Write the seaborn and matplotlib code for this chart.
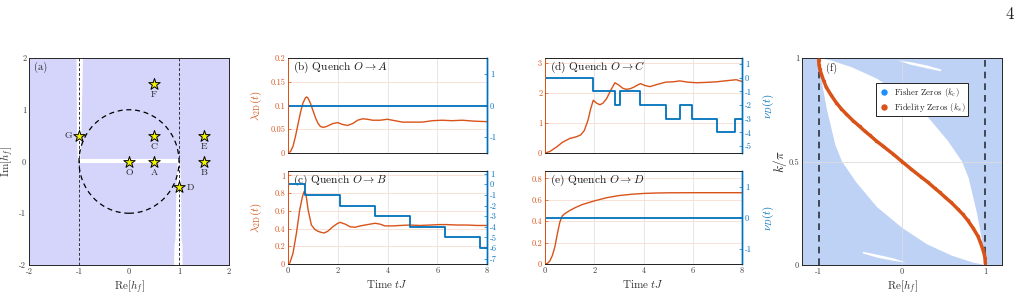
import matplotlib
matplotlib.use('Agg')
import matplotlib.pyplot as plt
from matplotlib.patches import Circle
from matplotlib.lines import Line2D
import seaborn as sns

# colores tipo MATLAB
ORANGE = '#D95319'
BLUE = '#0072BD'
DARK = '#262626'
LAVANDA = '#d5d5fb'
FISHER = '#bed2f6'

# ---- (a) plano complejo h_f ----
star_names = ['O', 'A', 'B', 'C', 'D', 'E', 'F', 'G']
star_re = [0.0, 0.5, 1.5, 0.5, 1.0, 1.5, 0.5, -1.0]
star_im = [0.0, 0.0, 0.0, 0.5, -0.5, 0.5, 1.5, 0.5]

# franjas blancas
banda_sup_x = [-1.05, -0.92, -0.95, -0.975, -1.025, -1.04]
banda_sup_y = [2.0, 2.0, 0.6, 0.0, 0.0, 0.6]
banda_inf_x = [0.975, 1.025, 1.04, 1.05, 1.07, 1.07, 0.9, 0.91, 0.93, 0.95]
banda_inf_y = [0.0, 0.0, -0.5, -1.5, -1.6, -2.0, -2.0, -1.6, -1.5, -0.5]
linea_h_x = [-1.0, 1.0, 1.0, -1.0]
linea_h_y = [-0.035, -0.035, 0.04, 0.04]

# ---- (b)-(e) dinamica ----
t_b = [0, 0.1, 0.2, 0.3, 0.4, 0.5, 0.6, 0.7, 0.75, 0.8, 0.9, 1.0, 1.1, 1.2, 1.3, 1.4, 1.5,
       1.6, 1.8, 2.0, 2.2, 2.4, 2.6, 2.8, 3.0, 3.2, 3.4, 3.7, 4.0, 4.3, 4.6, 5.0, 5.4,
       5.8, 6.2, 6.6, 7.0, 7.5, 8.0]
lam_b = [0, 0.003, 0.014, 0.035, 0.06, 0.085, 0.105, 0.116, 0.118, 0.116, 0.105, 0.09,
         0.075, 0.063, 0.056, 0.054, 0.055, 0.057, 0.062, 0.064, 0.06, 0.058, 0.062,
         0.069, 0.072, 0.071, 0.069, 0.069, 0.071, 0.068, 0.065, 0.065, 0.065, 0.068,
         0.069, 0.068, 0.069, 0.067, 0.066]

t_c = [0, 0.07, 0.2, 0.34, 0.47, 0.58, 0.65, 0.72, 0.81, 0.94, 1.08, 1.2, 1.3, 1.45, 1.6,
       1.8, 2.0, 2.1, 2.3, 2.5, 2.7, 2.9, 3.1, 3.3, 3.5, 3.7, 3.9, 4.2, 4.5, 4.9, 5.3,
       5.7, 6.1, 6.4, 6.8, 7.2, 7.6, 8.0]
lam_c = [0, 0.01, 0.12, 0.35, 0.61, 0.76, 0.82, 0.79, 0.61, 0.44, 0.39, 0.37, 0.36, 0.35,
         0.37, 0.42, 0.46, 0.47, 0.45, 0.42, 0.415, 0.43, 0.44, 0.45, 0.46, 0.45, 0.43,
         0.43, 0.435, 0.44, 0.435, 0.44, 0.445, 0.445, 0.44, 0.44, 0.435, 0.435]
t_nu_c = [0, 0.68, 2.09, 3.49, 4.9, 6.3, 7.71, 8.0]
nu_c = [0, -1, -2, -3, -4, -5, -6, -6]

t_d = [0, 0.2, 0.47, 0.7, 1.0, 1.28, 1.45, 1.6, 1.75, 1.85, 1.96, 2.1, 2.23, 2.35, 2.5,
       2.65, 2.84, 3.0, 3.15, 3.3, 3.45, 3.6, 3.75, 3.88, 4.05, 4.26, 4.5, 4.9, 5.2,
       5.47, 5.8, 6.15, 6.5, 6.96, 7.4, 7.77, 8.0]
lam_d = [0, 0.05, 0.2, 0.35, 0.48, 0.54, 0.6, 0.75, 1.1, 1.45, 1.75, 1.65, 1.6, 1.65,
         1.8, 2.05, 2.33, 2.25, 2.15, 2.11, 2.13, 2.18, 2.25, 2.3, 2.24, 2.2, 2.26, 2.35,
         2.36, 2.39, 2.35, 2.33, 2.34, 2.36, 2.4, 2.43, 2.37]
t_nu_d = [0, 1.96, 2.84, 3.06, 3.85, 4.9, 5.47, 5.95, 7.0, 7.73, 8.0]
nu_d = [0, -1, -2, -1, -2, -3, -2, -3, -4, -3, -3]

t_e = [0, 0.1, 0.2, 0.3, 0.4, 0.5, 0.6, 0.7, 0.8, 1.0, 1.25, 1.5, 2.0, 2.5, 3.0, 3.5,
       4.0, 4.5, 5.0, 6.0, 7.0, 8.0]
lam_e = [0, 0.005, 0.03, 0.08, 0.16, 0.28, 0.39, 0.45, 0.47, 0.5, 0.53, 0.555, 0.59,
         0.62, 0.64, 0.652, 0.66, 0.664, 0.666, 0.667, 0.667, 0.667]

t_nu_cte = [0, 8.0]
nu_cte = [0, 0]

# ---- (f) ceros ----
fid_h = [-1.0, -0.995, -0.985, -0.97, -0.94, -0.91, -0.85, -0.79, -0.73, -0.67, -0.59,
         -0.51, -0.45, -0.39, -0.31, -0.23, -0.11, 0.0, 0.11, 0.23, 0.31, 0.39, 0.45,
         0.51, 0.59, 0.67, 0.73, 0.79, 0.85, 0.91, 0.94, 0.97, 0.985, 0.995, 1.0]
fid_k = [0.99, 0.965, 0.945, 0.925, 0.89, 0.86, 0.82, 0.785, 0.755, 0.73, 0.698,
         0.67, 0.648, 0.628, 0.6, 0.575, 0.537, 0.5, 0.463, 0.425, 0.4, 0.372, 0.352,
         0.33, 0.302, 0.27, 0.245, 0.215, 0.18, 0.14, 0.11, 0.075, 0.055, 0.035, 0.01]

lente_inf_h = [-1.0, -0.97, -0.9, -0.8, -0.72, -0.55, -0.3, 0.0, 0.3, 0.6, 0.85, 1.0]
lente_inf_k = [1.0, 0.9, 0.75, 0.58, 0.5, 0.4, 0.28, 0.18, 0.1, 0.045, 0.012, 0.0]
lente_sup_h = [1.0, 0.97, 0.9, 0.8, 0.72, 0.55, 0.3, 0.0, -0.3, -0.6, -0.85, -1.0]
lente_sup_k = [0.0, 0.1, 0.25, 0.42, 0.5, 0.6, 0.72, 0.82, 0.9, 0.955, 0.988, 1.0]

astilla_inf_h = [-0.47, -0.3, -0.1, 0.05, -0.1, -0.3, -0.47]
astilla_inf_k = [0.064, 0.05, 0.032, 0.012, 0.02, 0.036, 0.056]
astilla_sup_h = [0.47, 0.3, 0.1, -0.05, 0.1, 0.3, 0.47]
astilla_sup_k = [0.936, 0.95, 0.968, 0.988, 0.98, 0.964, 0.944]

sns.set_theme(style='white')
plt.rcParams['font.family'] = ['cmr10', 'DejaVu Serif']
plt.rcParams['mathtext.fontset'] = 'cm'
plt.rcParams['axes.unicode_minus'] = False
plt.rcParams['axes.formatter.use_mathtext'] = True

W, H = 1021, 296
TICK = 6
LAB = 8


def caja(l, t, r, b):
    return [l / W, 1 - b / H, (r - l) / W, (b - t) / H]


def estilo(ax):
    ax.tick_params(direction='in', length=2.5, width=0.5, labelsize=TICK, pad=2,
                   colors=DARK, labelcolor='#404040')
    for s in ax.spines.values():
        s.set_color(DARK)
        s.set_linewidth(0.7)


fig = plt.figure(figsize=(W / 100, H / 100), dpi=100)

# ===== (a) =====
ax = fig.add_axes(caja(29, 58, 229, 265))
ax.set_facecolor(LAVANDA)
ax.fill(banda_sup_x, banda_sup_y, color='white', lw=0, zorder=1)
ax.fill(banda_inf_x, banda_inf_y, color='white', lw=0, zorder=1)
ax.fill(linea_h_x, linea_h_y, color='white', lw=0, zorder=1)
for xv in [-1, 1]:
    ax.axvline(xv, color='#333333', lw=0.7, ls=(0, (3, 2)), zorder=2)
ax.add_patch(Circle((0, 0), 1, fill=False, ec='black', lw=0.9, ls=(0, (4, 3)), zorder=2))
sns.scatterplot(x=star_re, y=star_im, ax=ax, marker='*', s=75, color='#f5f500',
                edgecolor='black', linewidth=0.7, zorder=4, legend=False)
for n, xr, yi in zip(star_names, star_re, star_im):
    if n == 'G':
        ax.text(xr - 0.21, yi, n, ha='center', va='center', fontsize=7)
    elif n == 'D':
        ax.text(xr + 0.22, yi, n, ha='center', va='center', fontsize=7)
    else:
        ax.text(xr, yi - 0.21, n, ha='center', va='center', fontsize=7)
ax.set_xlim(-2, 2)
ax.set_ylim(-2, 2)
ax.set_xticks([-2, -1, 0, 1, 2])
ax.set_xticklabels(['-2', '-1', '0', '1', '2'])
ax.set_yticks([-2, -1, 0, 1, 2])
ax.set_yticklabels(['-2', '-1', '0', '1', '2'])
estilo(ax)
ax.set_xlabel(r'Re$[h_f]$', fontsize=LAB, labelpad=2, color='#333333')
ax.set_ylabel(r'Im$[h_f]$', fontsize=LAB, labelpad=2, color='#333333')
ax.text(0.025, 0.955, '(a)', transform=ax.transAxes, fontsize=7.5, va='center')


# ===== (b)-(e) =====
def panel_dinamico(rect, t, lam, t_nu, nu, ylim_l, yticks_l, yticklabels_l, ylim_r,
                   yticks_r, titulo, abajo, ylabel_izq, ylabel_der):
    ax = fig.add_axes(caja(*rect))
    ax2 = ax.twinx()
    ax.set_xlim(0, 8)
    ax.set_xticks([0, 2, 4, 6, 8])
    ax.grid(axis='x', color='#e3e3e3', lw=0.6)
    ax.grid(axis='y', color='#f7dccf', lw=0.6)
    sns.lineplot(x=t, y=lam, ax=ax, color=ORANGE, lw=1.0, estimator=None, sort=False)
    sns.lineplot(x=t_nu, y=nu, ax=ax2, color=BLUE, lw=1.3, estimator=None, sort=False,
                 drawstyle='steps-post')
    ax.set_ylim(*ylim_l)
    ax.set_yticks(yticks_l)
    ax.set_yticklabels(yticklabels_l)
    ax2.set_ylim(*ylim_r)
    ax2.set_yticks(yticks_r)
    ax2.set_yticklabels([str(v) for v in yticks_r])
    for a in (ax, ax2):
        a.tick_params(direction='in', length=2.5, width=0.5, labelsize=TICK, pad=2)
        for s in a.spines.values():
            s.set_color(DARK)
            s.set_linewidth(0.7)
        a.spines['left'].set_color(ORANGE)
        a.spines['right'].set_color(BLUE)
        a.spines['right'].set_linewidth(1.0)
    ax.tick_params(axis='y', colors=ORANGE, labelcolor=ORANGE)
    ax.tick_params(axis='x', colors=DARK, labelcolor='#404040')
    ax2.tick_params(axis='y', colors=BLUE, labelcolor=BLUE)
    if abajo:
        ax.set_xticklabels(['0', '2', '4', '6', '8'])
        ax.set_xlabel(r'Time $tJ$', fontsize=LAB, labelpad=2, color='#333333')
    else:
        ax.set_xticklabels([])
        ax.set_xlabel('')
    ax.set_ylabel('')
    ax2.set_ylabel('')
    if ylabel_izq:
        ax.set_ylabel(r'$\lambda_{\rm 2D}(t)$', fontsize=LAB, color=ORANGE)
        ax.yaxis.set_label_coords(-0.12, 0.5)
    if ylabel_der:
        ax2.set_ylabel(r'$\nu_D(t)$', fontsize=LAB, color=BLUE)
        ax2.yaxis.set_label_coords(1.095, 0.5)
    ax.text(0.025, 0.9, titulo, transform=ax.transAxes, fontsize=8.2, va='center',
            color='#1a1a1a', zorder=5)
    return ax


panel_dinamico((288, 58, 487, 153), t_b, lam_b, t_nu_cte, nu_cte, (0, 0.2),
               [0, 0.05, 0.1, 0.15, 0.2], ['0', '0.05', '0.1', '0.15', '0.2'],
               (-1.5, 1.5), [-1, 0, 1], r'(b) Quench $O \rightarrow A$', False, True, False)
panel_dinamico((288, 171, 487, 264), t_c, lam_c, t_nu_c, nu_c, (0, 1.05),
               [0, 0.2, 0.4, 0.6, 0.8, 1.0], ['0', '0.2', '0.4', '0.6', '0.8', '1'],
               (-7.5, 1.25), [-7, -6, -5, -4, -3, -2, -1, 0, 1],
               r'(c) Quench $O \rightarrow B$', True, True, False)
panel_dinamico((545, 58, 742, 153), t_d, lam_d, t_nu_d, nu_d, (0, 3.15),
               [0, 1, 2, 3], ['0', '1', '2', '3'],
               (-5.5, 1.45), [-5, -4, -3, -2, -1, 0, 1],
               r'(d) Quench $O \rightarrow C$', False, False, True)
panel_dinamico((545, 171, 742, 264), t_e, lam_e, t_nu_cte, nu_cte, (0, 0.87),
               [0, 0.2, 0.4, 0.6, 0.8], ['0', '0.2', '0.4', '0.6', '0.8'],
               (-1.5, 1.5), [-1, 0, 1], r'(e) Quench $O \rightarrow D$', True, False, True)

# ===== (f) =====
ax = fig.add_axes(caja(802, 58, 1002, 265))
ax.set_facecolor(FISHER)
ax.fill(lente_inf_h + lente_sup_h, lente_inf_k + lente_sup_k, color='white', lw=0, zorder=1)
ax.fill(astilla_inf_h, astilla_inf_k, color='white', lw=0, zorder=1)
ax.fill(astilla_sup_h, astilla_sup_k, color='white', lw=0, zorder=1)
ax.axvline(0, color='#dcdcdc', lw=0.6, zorder=1.5)
ax.axhline(0.5, color='#dcdcdc', lw=0.6, zorder=1.5)
for xv in [-1, 1]:
    ax.axvline(xv, color='#2b2f3a', lw=1.2, ls=(0, (4, 3)), zorder=2)
sns.lineplot(x=fid_h, y=fid_k, ax=ax, color=ORANGE, lw=2.5, estimator=None, sort=False,
             zorder=3)
sns.scatterplot(x=fid_h, y=fid_k, ax=ax, color=ORANGE, s=6, linewidth=0, zorder=3.5,
                legend=False)
ax.set_xlim(-1.2, 1.2)
ax.set_ylim(0, 1)
ax.set_xticks([-1, 0, 1])
ax.set_xticklabels(['-1', '0', '1'])
ax.set_yticks([0, 0.5, 1])
ax.set_yticklabels(['0', '0.5', '1'])
estilo(ax)
ax.set_xlabel(r'Re$[h_f]$', fontsize=LAB, labelpad=2, color='#333333')
ax.set_ylabel(r'$k/\pi$', fontsize=LAB + 1.5, labelpad=0, color='#222222')
ax.text(0.12, 0.95, '(f)', transform=ax.transAxes, fontsize=7.5, va='center')
handles = [Line2D([], [], ls='', marker='o', ms=3.6, color='#1E90FF'),
           Line2D([], [], ls='', marker='o', ms=3.6, color=ORANGE)]
leg = ax.legend(handles, [r'Fisher Zeros ($k_c$)', r'Fidelity Zeros ($k_s$)'],
                loc='upper left', bbox_to_anchor=(0.37, 0.877), fontsize=6.3,
                frameon=True, fancybox=False, framealpha=1, edgecolor='#222222',
                borderpad=0.3, handletextpad=0.4, labelspacing=0.2, handlelength=1.3,
                borderaxespad=0)
leg.get_frame().set_linewidth(0.7)

fig.text(1010 / W, 1 - 14 / H, '4', fontsize=12, ha='center', va='center', color='#222222')

fig.savefig('out.png', dpi=100)
